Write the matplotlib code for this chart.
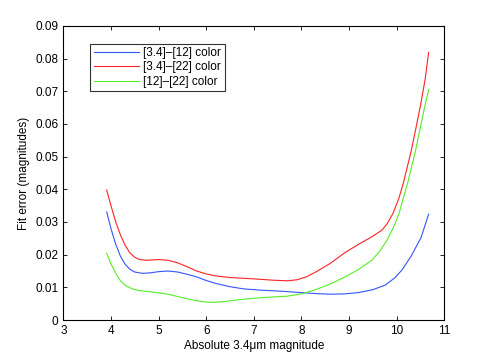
import matplotlib
matplotlib.use("Agg")
import matplotlib.pyplot as plt

plt.rcParams['font.family'] = ['Liberation Sans', 'DejaVu Sans']

red_x = [3.91, 4.0, 4.1, 4.2, 4.3, 4.4, 4.5, 4.6, 4.75, 5.0, 5.2, 5.4, 5.6, 5.8, 6.0, 6.2, 6.5, 7.0, 7.4, 7.7, 7.9, 8.1, 8.3, 8.6, 8.9, 9.2, 9.48, 9.69, 9.8, 9.92, 10.04, 10.14, 10.30, 10.40, 10.51, 10.60, 10.67]
red_y = [0.0398, 0.0350, 0.0300, 0.0260, 0.0228, 0.0205, 0.0192, 0.0185, 0.0183, 0.0185, 0.0183, 0.0175, 0.0163, 0.0150, 0.0141, 0.0135, 0.0130, 0.0126, 0.0122, 0.0120, 0.0123, 0.0132, 0.0147, 0.0173, 0.0205, 0.0232, 0.0255, 0.0275, 0.0295, 0.0326, 0.0370, 0.0420, 0.0515, 0.0585, 0.0665, 0.0740, 0.0819]

blue_x = [3.91, 4.0, 4.1, 4.2, 4.3, 4.4, 4.5, 4.65, 4.8, 5.0, 5.2, 5.4, 5.6, 5.8, 6.0, 6.2, 6.5, 6.8, 7.2, 7.6, 8.0, 8.3, 8.6, 8.9, 9.2, 9.5, 9.76, 9.95, 10.11, 10.3, 10.51, 10.67]
blue_y = [0.0331, 0.0280, 0.0232, 0.0195, 0.0170, 0.0155, 0.0147, 0.0143, 0.0144, 0.0148, 0.0150, 0.0147, 0.0140, 0.0132, 0.0121, 0.0112, 0.0102, 0.0095, 0.0091, 0.0088, 0.0084, 0.0081, 0.0079, 0.0080, 0.0084, 0.0093, 0.0107, 0.0128, 0.0153, 0.0195, 0.0252, 0.0324]

green_x = [3.91, 4.0, 4.1, 4.2, 4.3, 4.45, 4.6, 4.8, 5.0, 5.2, 5.4, 5.6, 5.8, 6.0, 6.15, 6.4, 6.8, 7.2, 7.7, 8.0, 8.3, 8.6, 8.9, 9.2, 9.48, 9.65, 9.79, 9.92, 10.04, 10.23, 10.39, 10.49, 10.58, 10.67]
green_y = [0.0204, 0.0172, 0.0143, 0.0120, 0.0106, 0.0095, 0.0090, 0.0087, 0.0083, 0.0079, 0.0072, 0.0065, 0.0059, 0.0055, 0.0054, 0.0057, 0.0064, 0.0069, 0.0073, 0.0080, 0.0093, 0.0110, 0.0131, 0.0155, 0.0183, 0.0212, 0.0243, 0.0280, 0.0322, 0.0420, 0.0515, 0.0585, 0.0648, 0.0705]

labels = ['[3.4]–[12] color', '[3.4]–[22] color', '[12]–[22] color']
xticks = [3, 4, 5, 6, 7, 8, 9, 10, 11]
yticks = [0, 0.01, 0.02, 0.03, 0.04, 0.05, 0.06, 0.07, 0.08, 0.09]

fig = plt.figure(figsize=(4.91, 3.6), dpi=100)
ax = fig.add_axes([0.129, 0.111, 0.776, 0.817])
ax.plot(blue_x, blue_y, color='#3355ff', lw=0.8, label=labels[0])
ax.plot(red_x, red_y, color='#ff2222', lw=0.8, label=labels[1])
ax.plot(green_x, green_y, color='#55ee22', lw=0.8, label=labels[2])
ax.set_xlim(3, 11)
ax.set_ylim(0, 0.09)
ax.set_xticks(xticks)
ax.set_yticks(yticks)
ax.set_yticklabels(['0'] + ['%.2f' % v for v in yticks[1:]])
ax.tick_params(direction='in', top=True, right=True, labelsize=8.5, length=3, width=0.6)
for s in ax.spines.values():
    s.set_linewidth(0.8)
ax.set_xlabel('Absolute 3.4μm magnitude', fontsize=8.5, labelpad=2)
ax.set_ylabel('Fit error (magnitudes)', fontsize=8.5, labelpad=4)
leg = ax.legend(loc='upper left', bbox_to_anchor=(0.055, 0.96), fontsize=8.5, frameon=True,
                fancybox=False, edgecolor='black', handlelength=3.8, borderpad=0.3,
                labelspacing=0.2, handletextpad=0.4)
leg.get_frame().set_linewidth(0.8)
fig.savefig('out.png', dpi=100)
